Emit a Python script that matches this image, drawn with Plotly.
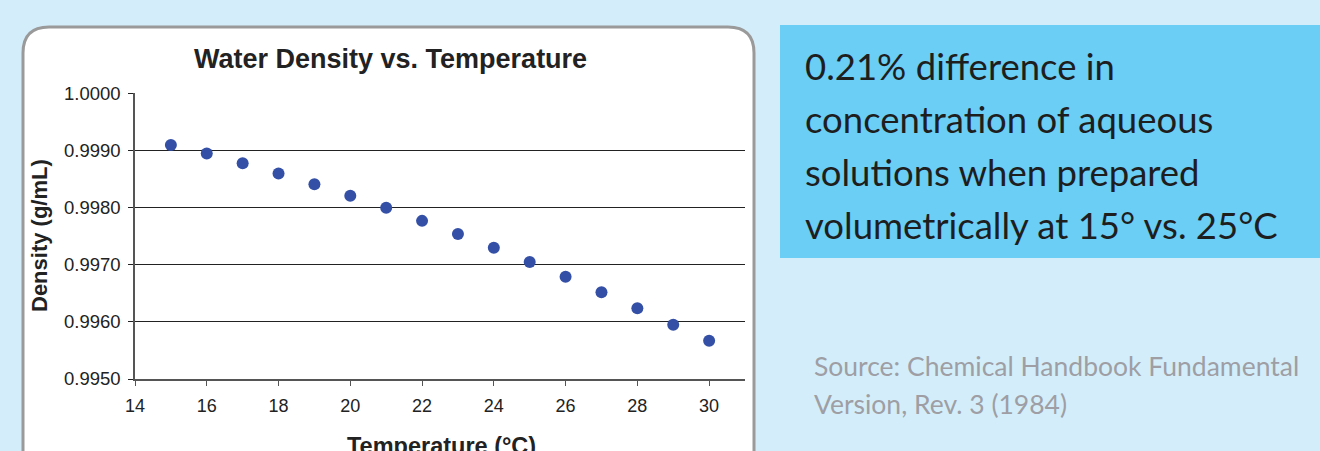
import plotly.graph_objects as go

# ---- data ----
temperature_c = [15, 16, 17, 18, 19, 20, 21, 22, 23, 24, 25, 26, 27, 28, 29, 30]
density_g_ml = [0.99910, 0.99895, 0.99878, 0.99860, 0.99841, 0.99821, 0.99800, 0.99777,
                0.99754, 0.99730, 0.99705, 0.99679, 0.99652, 0.99624, 0.99595, 0.99567]
x_ticks = [14, 16, 18, 20, 22, 24, 26, 28, 30]
y_ticks = [0.9950, 0.9960, 0.9970, 0.9980, 0.9990, 1.0000]
title_text = "Water Density vs. Temperature"
x_title = "Temperature (°C)"
y_title = "Density (g/mL)"
callout_lines = ["0.21% difference in", "concentration of aqueous",
                 "solutions when prepared", "volumetrically at 15° vs. 25°C"]
source_lines = ["Source: Chemical Handbook Fundamental", "Version, Rev. 3 (1984)"]

W, H = 1320, 451
BG = "#D3EEFA"


def px(x):
    return x / W


def py(y):
    return (H - y) / H


fig = go.Figure()
fig.add_trace(go.Scatter(
    x=temperature_c, y=density_g_ml, mode="markers",
    marker=dict(size=12, color="#3450A6"), showlegend=False, cliponaxis=False))

shapes = []
# white rounded chart panel
x0, x1, yt, yb = px(23), px(754), py(27), py(470)
rx, ry = 26 / W, 26 / H
path = (f"M {x0},{yb} L {x0},{yt - ry} Q {x0},{yt} {x0 + rx},{yt} "
        f"L {x1 - rx},{yt} Q {x1},{yt} {x1},{yt - ry} L {x1},{yb} Z")
shapes.append(dict(type="path", xref="paper", yref="paper", path=path,
                   fillcolor="white", line=dict(color="#9A9A9A", width=3), layer="below"))
# blue callout box
shapes.append(dict(type="rect", xref="paper", yref="paper",
                   x0=px(780), x1=px(1321), y0=py(258), y1=py(25),
                   fillcolor="#6BCEF5", line=dict(width=0), layer="below"))

FONT = "Liberation Sans, Arial"
annotations = []
annotations.append(dict(text=f"<b>{title_text}</b>", xref="paper", yref="paper",
                        x=px(390), y=py(59), showarrow=False, xanchor="center", yanchor="middle",
                        font=dict(family=FONT, size=27, color="#222222")))
annotations.append(dict(text=f"<b>{x_title}</b>", xref="paper", yref="paper",
                        x=px(441), y=py(446), showarrow=False, xanchor="center", yanchor="middle",
                        font=dict(family=FONT, size=23.5, color="#222222")))
annotations.append(dict(text=f"<b>{y_title}</b>", xref="paper", yref="paper",
                        x=px(40), y=py(236), showarrow=False, xanchor="center", yanchor="middle",
                        textangle=-90,
                        font=dict(family=FONT, size=22, color="#222222")))
for i, line in enumerate(callout_lines):
    annotations.append(dict(text=line, xref="paper", yref="paper",
                            x=px(803), y=py(66 + 53 * i), showarrow=False,
                            xanchor="left", yanchor="middle",
                            font=dict(family="Lato", size=36.5, color="#1E1E1E")))
for i, line in enumerate(source_lines):
    annotations.append(dict(text=line, xref="paper", yref="paper",
                            x=px(812), y=py(366 + 38 * i), showarrow=False,
                            xanchor="left", yanchor="middle",
                            font=dict(family="Lato", size=26.5, color="#9E9EA4")))

fig.update_layout(
    width=W, height=H, autosize=False,
    margin=dict(l=0, r=0, t=0, b=0, pad=0),
    paper_bgcolor=BG, plot_bgcolor="white",
    shapes=shapes, annotations=annotations,
    xaxis=dict(domain=[px(135), px(745)], range=[14, 31], tickvals=x_ticks, automargin=False,
               showgrid=False, zeroline=False, showline=True, linecolor="#555555", linewidth=1.5,
               ticks="outside", ticklen=5, tickcolor="#555555", tickwidth=1,
               ticklabelstandoff=5,
               tickfont=dict(family=FONT, size=18, color="#222222")),
    yaxis=dict(domain=[py(379), py(93)], range=[0.995, 1.00001], tickvals=y_ticks, automargin=False,
               tickformat=".4f", showgrid=True, gridcolor="#222222", gridwidth=1,
               zeroline=False, showline=True, linecolor="#555555", linewidth=1.5,
               ticks="outside", ticklen=5, tickcolor="#222222", tickwidth=1,
               ticklabelstandoff=4,
               tickfont=dict(family=FONT, size=18.5, color="#222222")),
)

fig.write_html(
    "out.html",
    config={"displayModeBar": False},
    post_script=f"document.body.style.margin='0';document.body.style.background='{BG}';"
                "document.documentElement.style.overflow='hidden';",
)
